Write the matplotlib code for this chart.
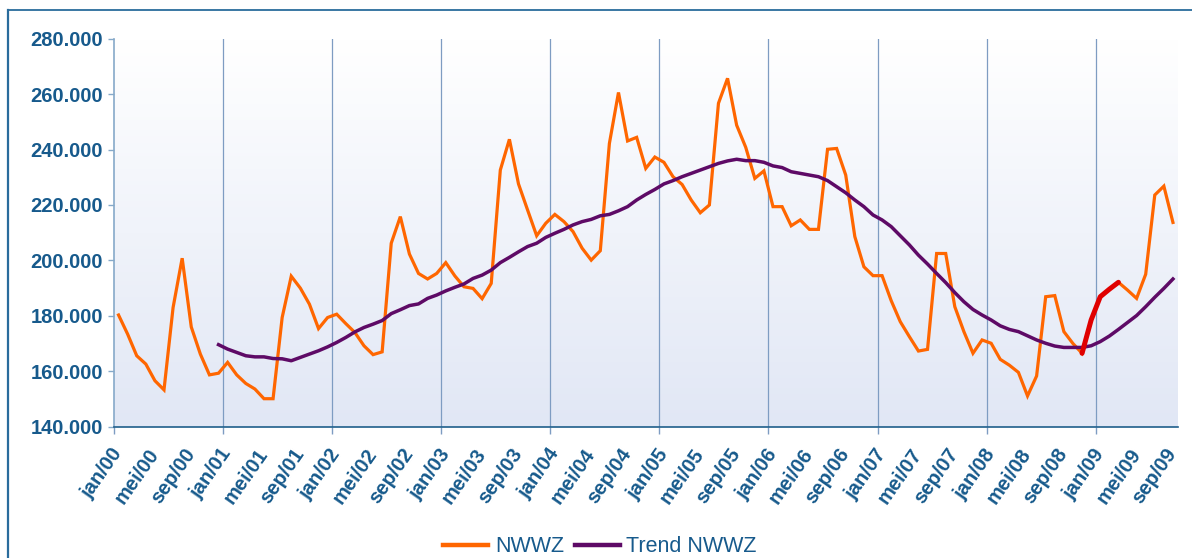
import numpy as np
import matplotlib
matplotlib.use("Agg")
import matplotlib.pyplot as plt
from matplotlib.lines import Line2D
from matplotlib.ticker import FuncFormatter, FixedLocator

# ---------------- data (values in persons, monthly jan/00 .. sep/09) ----------------
months_nl = ["jan", "feb", "mrt", "apr", "mei", "jun", "jul", "aug", "sep", "okt", "nov", "dec"]
years = list(range(2000, 2010))
categories = [f"{m}/{str(y)[2:]}" for y in years for m in months_nl][:117]

nwwz = [
    180.3, 173.4, 165.6, 162.6, 156.6, 153.3, 183.0, 200.8, 176.0, 166.2, 158.7, 159.3,
    163.2, 158.7, 155.6, 153.6, 150.1, 150.1, 179.4, 194.3, 190.0, 184.2, 175.4, 179.4,
    180.6, 177.2, 174.0, 169.2, 166.0, 167.0, 206.2, 215.8, 202.3, 195.3, 193.3, 195.3,
    199.2, 194.4, 190.5, 189.9, 186.2, 191.7, 232.6, 243.7, 227.6, 218.2, 208.9, 213.4,
    216.6, 214.0, 210.4, 204.4, 200.1, 203.5, 242.2, 260.6, 243.1, 244.4, 233.2, 237.3,
    235.4, 230.2, 227.4, 221.8, 217.2, 220.0, 256.7, 265.7, 248.8, 240.8, 229.6, 232.3,
    219.4, 219.4, 212.5, 214.6, 211.2, 211.2, 240.1, 240.4, 230.8, 208.6, 197.7, 194.5,
    194.5, 185.5, 177.9, 172.5, 167.3, 167.9, 202.5, 202.5, 183.3, 174.3, 166.5, 171.3,
    170.1, 164.3, 162.2, 159.6, 151.1, 158.3, 186.9, 187.3, 174.3, 170.0, 166.5, 178.5,
    186.9, 189.6, 192.1, 189.3, 186.3, 195.0, 223.6, 226.8, 213.7,
]
nwwz = [v * 1000 for v in nwwz]

trend_start = 11  # trend begins dec/00
trend = [
    169.6, 168.0, 166.8, 165.6, 165.2, 165.2, 164.6, 164.5, 163.8, 165.0, 166.2, 167.4,
    168.8, 170.4, 172.2, 174.2, 175.8, 177.0, 178.3, 180.8, 182.2, 183.7, 184.3, 186.3,
    187.5, 189.0, 190.3, 191.5, 193.5, 194.7, 196.5, 199.2, 201.1, 203.1, 205.0, 206.2,
    208.3, 209.8, 211.2, 212.8, 214.0, 214.8, 216.1, 216.6, 217.9, 219.4, 221.8, 223.8,
    225.6, 227.6, 228.8, 230.2, 231.4, 232.6, 233.8, 235.0, 235.9, 236.5, 236.0, 236.0,
    235.4, 234.1, 233.5, 232.0, 231.4, 230.8, 230.2, 228.8, 226.6, 224.4, 221.8, 219.4,
    216.4, 214.6, 212.2, 208.9, 205.6, 201.9, 198.7, 195.3, 192.0, 188.4, 185.1, 182.3,
    180.3, 178.5, 176.4, 175.1, 174.3, 172.8, 171.3, 170.1, 169.1, 168.6, 168.6, 168.6,
    169.2, 170.7, 172.7, 175.1, 177.6, 180.1, 183.3, 186.7, 189.9, 193.3,
]
trend = [v * 1000 for v in trend]

# highlighted stretch (nov/08 .. mrt/09)
hl_start, hl_end = 106, 110

y_ticks = [140000, 160000, 180000, 200000, 220000, 240000, 260000, 280000]

# ---------------- figure ----------------
W, H = 1192, 558
fig = plt.figure(figsize=(W / 100, H / 100), dpi=100)
fig.patch.set_facecolor("white")

L, R, T, B = 114, 1177.5, 38.7, 426.7
ax = fig.add_axes([L / W, 1 - B / H, (R - L) / W, (B - T) / H])

label_color = "#175A8C"
font = "Liberation Sans"

n = len(nwwz)
x = np.arange(n)
xt = np.arange(trend_start, trend_start + len(trend))

ax.set_xlim(-0.5, n - 0.5)
ax.set_ylim(y_ticks[0], y_ticks[-1])

# gradient background
grad = np.linspace(0, 1, 256).reshape(-1, 1)
top = np.array([1.0, 1.0, 1.0])
bot = np.array([225, 231, 245]) / 255
img = top[None, None, :] * (1 - grad[:, :, None]) + bot[None, None, :] * grad[:, :, None]
ax.imshow(img, extent=(-0.5, n - 0.5, y_ticks[0], y_ticks[-1]), aspect="auto",
          origin="upper", zorder=0)

# vertical gridlines at year boundaries
for b in np.arange(11.5, n - 0.5, 12):
    ax.axvline(b, color="#7E9CC2", lw=0.9, zorder=1)

ax.plot(x, nwwz, color="#FF6600", lw=2.3, zorder=3, solid_joinstyle="miter")
ax.plot(xt, trend, color="#5E0A66", lw=2.5, zorder=4)
ax.plot(x[hl_start:hl_end + 1], nwwz[hl_start:hl_end + 1], color="#E00000", lw=3.6,
        zorder=5, solid_capstyle="round")

# spines
for s in ["top", "right"]:
    ax.spines[s].set_visible(False)
ax.spines["left"].set_color("#86A9C9")
ax.spines["left"].set_linewidth(1.2)
ax.spines["bottom"].set_color("#1F5F8B")
ax.spines["bottom"].set_linewidth(1.2)

# y ticks
ax.yaxis.set_major_locator(FixedLocator(y_ticks))
ax.yaxis.set_major_formatter(FuncFormatter(lambda v, p: f"{int(v):,}".replace(",", ".")))
ax.tick_params(axis="y", direction="out", length=4, width=1, color="#86A9C9", pad=4,
               labelsize=14.5, labelcolor=label_color)
for lab in ax.get_yticklabels():
    lab.set_fontweight("bold")
    lab.set_fontfamily(font)

# x ticks: major marks at year boundaries, labels every 4 months
ax.xaxis.set_major_locator(FixedLocator(list(np.arange(-0.5, n - 0.5, 12))))
ax.tick_params(axis="x", which="major", direction="out", length=5, width=1,
               color="#7E9CC2", labelbottom=False)
lab_pos = list(range(0, n, 4))
ax.set_xticks(lab_pos, minor=True)
ax.set_xticklabels([categories[i] for i in lab_pos], minor=True, rotation=55,
                   ha="right", va="center", rotation_mode="anchor",
                   fontsize=14.5, fontweight="bold", color=label_color, fontfamily=font)
ax.tick_params(axis="x", which="minor", length=0, pad=17)

# legend
handles = [Line2D([], [], color="#FF6600", lw=3.2),
           Line2D([], [], color="#5E0A66", lw=3.2)]
leg = fig.legend(handles, ["NWWZ", "Trend NWWZ"], loc="center",
                 bbox_to_anchor=(600 / W, 1 - 547 / H), ncol=2, frameon=False,
                 handlelength=2.1, handletextpad=0.3, columnspacing=0.5,
                 prop={"family": font, "size": 15.5})
for t in leg.get_texts():
    t.set_color(label_color)

# outer frame (left and top edges visible)
fig.add_artist(Line2D([8 / W, 8 / W], [0, 1 - 10 / H], transform=fig.transFigure,
                      color="#2A6C9C", lw=1.6))
fig.add_artist(Line2D([8 / W, 1], [1 - 10 / H, 1 - 10 / H], transform=fig.transFigure,
                      color="#2A6C9C", lw=1.3))

fig.savefig("out.png", dpi=100)
